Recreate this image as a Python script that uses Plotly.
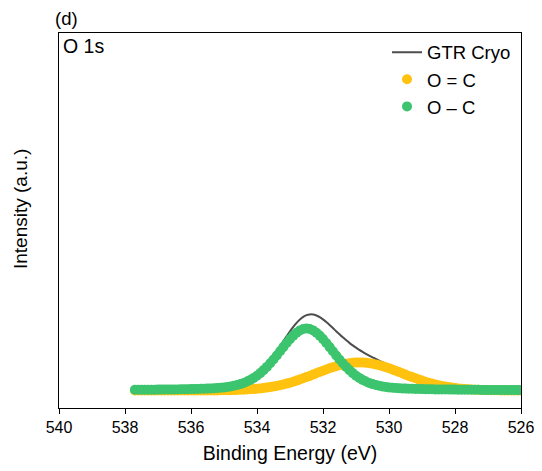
import plotly.graph_objects as go

# Binding energy grid (eV)
energy = [537.7, 537.6, 537.5, 537.4, 537.3, 537.2, 537.1, 537.0, 536.9, 536.8,
          536.7, 536.6, 536.5, 536.4, 536.3, 536.2, 536.1, 536.0, 535.9, 535.8,
          535.7, 535.6, 535.5, 535.4, 535.3, 535.2, 535.1, 535.0, 534.9, 534.8,
          534.7, 534.6, 534.5, 534.4, 534.3, 534.2, 534.1, 534.0, 533.9, 533.8,
          533.7, 533.6, 533.5, 533.4, 533.3, 533.2, 533.1, 533.0, 532.9, 532.8,
          532.7, 532.6, 532.5, 532.4, 532.3, 532.2, 532.1, 532.0, 531.9, 531.8,
          531.7, 531.6, 531.5, 531.4, 531.3, 531.2, 531.1, 531.0, 530.9, 530.8,
          530.7, 530.6, 530.5, 530.4, 530.3, 530.2, 530.1, 530.0, 529.9, 529.8,
          529.7, 529.6, 529.5, 529.4, 529.3, 529.2, 529.1, 529.0, 528.9, 528.8,
          528.7, 528.6, 528.5, 528.4, 528.3, 528.2, 528.1, 528.0, 527.9, 527.8,
          527.7, 527.6, 527.5, 527.4, 527.3, 527.2, 527.1, 527.0, 526.9, 526.8,
          526.7, 526.6, 526.5, 526.4, 526.3, 526.2, 526.1, 526.0, 525.9]

# Intensity above background (a.u.) - measured envelope (GTR Cryo)
gtr_cryo = [7, 7, 7, 7, 8, 8, 8, 9, 9, 10,
            10, 10, 11, 12, 12, 13, 13, 14, 15, 16,
            17, 19, 20, 22, 24, 27, 30, 34, 38, 44,
            51, 60, 71, 84, 100, 118, 140, 166, 195, 228,
            265, 306, 350, 396, 445, 495, 544, 592, 637, 677,
            711, 737, 754, 761, 760, 750, 734, 711, 685, 656,
            625, 593, 562, 532, 504, 476, 451, 428, 406, 386,
            367, 349, 332, 315, 299, 284, 268, 253, 238, 223,
            208, 193, 179, 164, 151, 138, 125, 113, 102, 91,
            81, 72, 64, 57, 50, 44, 38, 33, 29, 26,
            22, 20, 17, 15, 13, 12, 11, 9, 9, 8,
            7, 7, 6, 6, 5, 5, 5, 5, 4]

# O = C component
o_double_c = [0, 0, 0, 0, 0, 0, 0, 0, 0, 0,
              0, 0, 0, 0, 0, 0, 0, 0, 0, 0,
              0, 0, 1, 1, 1, 1, 2, 2, 3, 3,
              4, 5, 7, 8, 10, 12, 15, 17, 21, 25,
              29, 34, 40, 46, 53, 61, 69, 78, 88, 99,
              110, 122, 134, 146, 159, 172, 185, 197, 210, 222,
              233, 243, 252, 261, 267, 273, 277, 279, 280, 279,
              277, 273, 267, 261, 252, 243, 233, 222, 210, 197,
              185, 172, 159, 146, 134, 122, 110, 99, 88, 78,
              69, 61, 53, 46, 40, 34, 29, 25, 21, 17,
              15, 12, 10, 8, 7, 5, 4, 3, 3, 2,
              2, 1, 1, 1, 1, 0, 0, 0, 0]

# O – C component
o_single_c = [7, 7, 7, 7, 8, 8, 8, 9, 9, 10,
              10, 10, 11, 11, 12, 13, 13, 14, 15, 16,
              17, 18, 19, 21, 23, 25, 28, 31, 36, 41,
              47, 55, 64, 76, 90, 106, 126, 148, 174, 204,
              236, 272, 310, 350, 392, 434, 475, 514, 549, 578,
              601, 615, 620, 615, 601, 578, 549, 514, 475, 434,
              392, 350, 310, 272, 236, 204, 174, 148, 126, 106,
              90, 76, 64, 55, 47, 41, 36, 31, 28, 25,
              23, 21, 19, 18, 17, 16, 15, 14, 13, 13,
              12, 11, 11, 10, 10, 10, 9, 9, 8, 8,
              8, 7, 7, 7, 7, 6, 6, 6, 6, 6,
              5, 5, 5, 5, 5, 5, 4, 4, 4]

x_ticks = [540, 538, 536, 534, 532, 530, 528, 526]

fig = go.Figure()
fig.add_trace(go.Scatter(x=energy, y=gtr_cryo, mode='lines', name='GTR Cryo',
                         line=dict(color='#4d4d4d', width=2, shape='spline')))
fig.add_trace(go.Scatter(x=energy, y=o_double_c, mode='markers', name='O = C',
                         marker=dict(color='#FFC20E', size=10, line=dict(width=0))))
fig.add_trace(go.Scatter(x=energy, y=o_single_c, mode='markers', name='O \u2013 C',
                         marker=dict(color='#3CC46E', size=10, line=dict(width=0))))
fig.update_layout(width=542, height=471,
                  margin=dict(l=59, r=21, t=33, b=63, autoexpand=False),
                  paper_bgcolor='white', plot_bgcolor='white',
                  font=dict(family='Arial, Liberation Sans', color='black'),
                  legend=dict(x=0.71, y=0.998, xanchor='left', yanchor='top', bgcolor='rgba(0,0,0,0)',
                              font=dict(size=18.5)))
fig.update_xaxes(range=[540, 526], tickvals=x_ticks, automargin=False,
                 ticks='outside', ticklen=5, tickwidth=1, tickcolor='black', showline=True, linecolor='black',
                 linewidth=1, mirror=True, showgrid=False, zeroline=False, tickfont=dict(size=16),
                 title=dict(text='Binding Energy (eV)', font=dict(size=19.5), standoff=11))
fig.update_yaxes(range=[-175, 3575], showticklabels=False, ticks='', automargin=False,
                 showline=True, linecolor='black',
                 linewidth=1, mirror=True, showgrid=False, zeroline=False)
fig.add_annotation(text='Intensity (a.u.)', textangle=-90, xref='paper', yref='paper',
                   x=(20-59)/462, y=(408-209)/375, xanchor='center', yanchor='middle',
                   showarrow=False, font=dict(size=19))
fig.add_annotation(text='O 1s', xref='paper', yref='paper', x=0.005, y=1.0, xanchor='left', yanchor='top',
                   showarrow=False, font=dict(size=19.5))
fig.add_annotation(text='(d)', xref='paper', yref='paper', x=-0.012, y=1.0, xanchor='left', yanchor='bottom',
                   yshift=2, showarrow=False, font=dict(size=18.5))
fig.write_html('out.html')
